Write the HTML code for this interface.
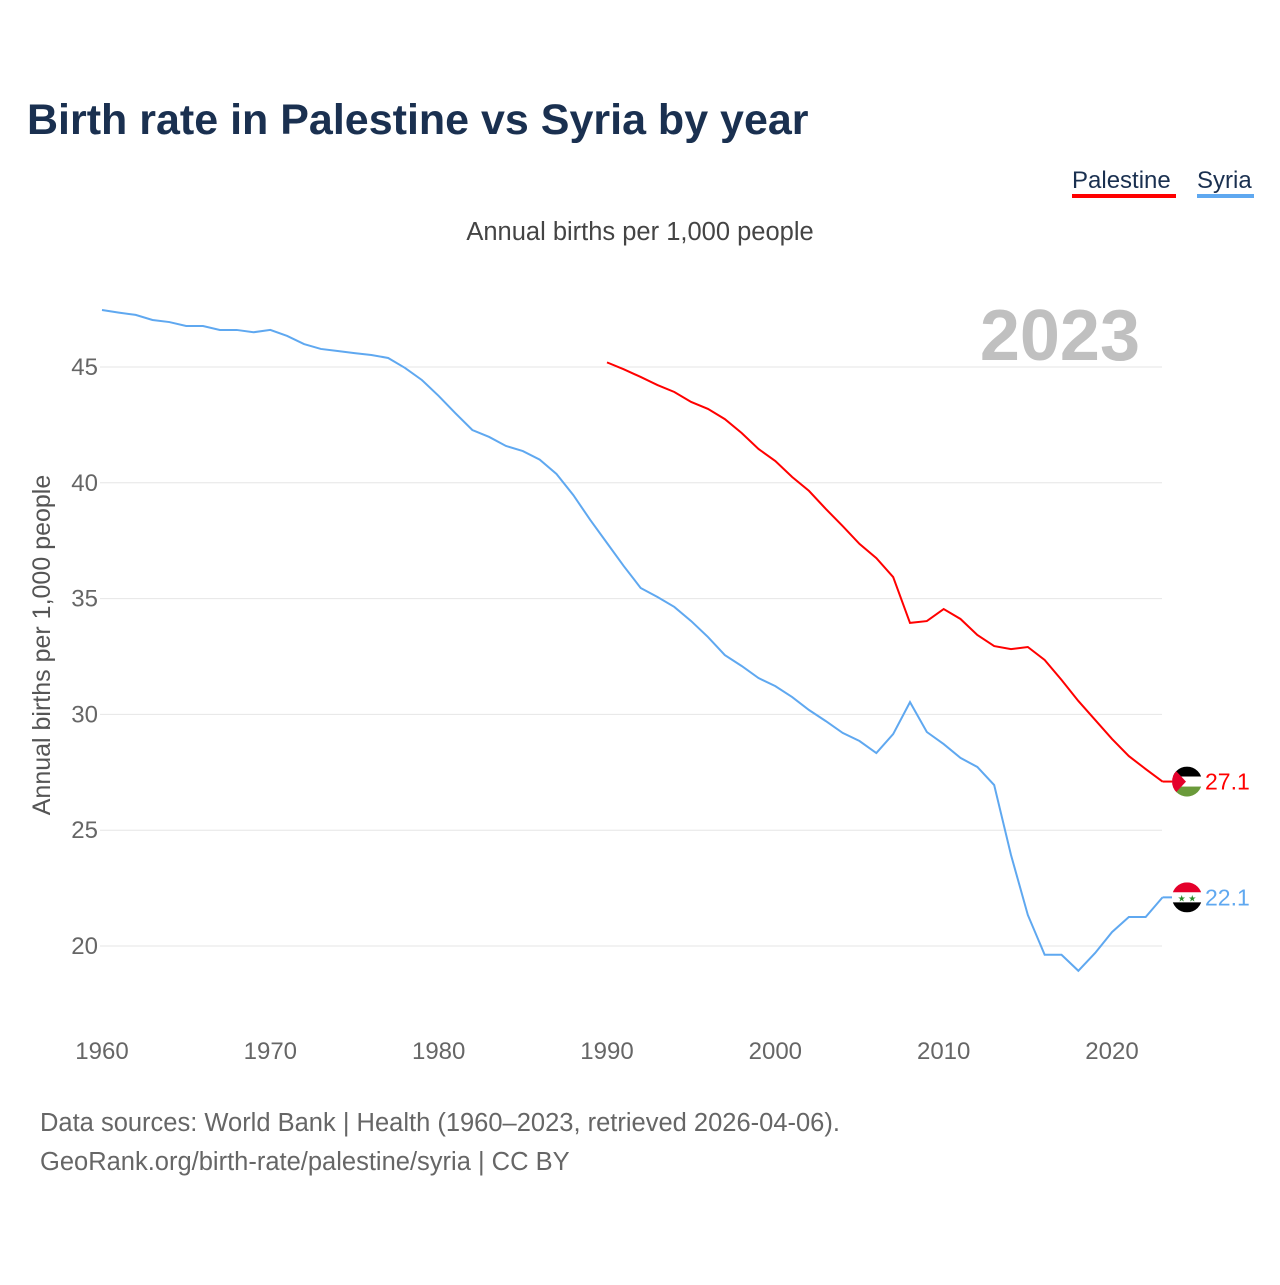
<!DOCTYPE html>
<html><head><meta charset="utf-8"><style>
body{margin:0;background:#fff;font-family:"Liberation Sans",sans-serif;}
svg text{font-family:"Liberation Sans",sans-serif;}
</style></head><body>
<svg width="1280" height="1280" viewBox="0 0 1280 1280">
<text x="27" y="134" font-size="43" font-weight="bold" fill="#1a3050">Birth rate in Palestine vs Syria by year</text>
<g>
<text x="1072" y="188" font-size="24" fill="#1a3050">Palestine</text>
<rect x="1072" y="194" width="104" height="4" fill="#ff0000"/>
<text x="1197" y="188" font-size="24" fill="#1a3050">Syria</text>
<rect x="1197" y="194" width="57" height="4" fill="#5fa8f0"/>
</g>
<text x="640" y="240" font-size="25.5" fill="#444" text-anchor="middle">Annual births per 1,000 people</text>
<text x="1140" y="360" font-size="72" font-weight="bold" fill="#c0c0c0" text-anchor="end">2023</text>
<text transform="translate(50,645) rotate(-90)" font-size="25" fill="#555" text-anchor="middle">Annual births per 1,000 people</text>
<g id="grid"></g><g id="xt"></g><g id="lines"></g>
<text x="40" y="1131" font-size="25.5" fill="#666">Data sources: World Bank | Health (1960–2023, retrieved 2026-04-06).</text>
<text x="40" y="1170" font-size="25.5" fill="#666">GeoRank.org/birth-rate/palestine/syria | CC BY</text>
</svg>
<script>
const yTicks=[20,25,30,35,40,45];
const xTicks=[1960,1970,1980,1990,2000,2010,2020];
const syriaYears=[1960,1961,1962,1963,1964,1965,1966,1967,1968,1969,1970,1971,1972,1973,1974,1975,1976,1977,1978,1979,1980,1981,1982,1983,1984,1985,1986,1987,1988,1989,1990,1991,1992,1993,1994,1995,1996,1997,1998,1999,2000,2001,2002,2003,2004,2005,2006,2007,2008,2009,2010,2011,2012,2013,2014,2015,2016,2017,2018,2019,2020,2021,2022,2023];
const syriaValues=[47.46,47.35,47.25,47.03,46.94,46.77,46.77,46.6,46.6,46.5,46.6,46.34,45.99,45.78,45.69,45.6,45.52,45.39,44.96,44.44,43.75,43.0,42.28,41.98,41.59,41.37,41.0,40.38,39.47,38.4,37.4,36.4,35.46,35.07,34.64,34.03,33.34,32.56,32.09,31.57,31.22,30.75,30.19,29.71,29.2,28.85,28.33,29.15,30.53,29.24,28.72,28.12,27.73,26.95,23.93,21.34,19.62,19.62,18.93,19.7,20.6,21.25,21.25,22.1];
const palYears=[1990,1991,1992,1993,1994,1995,1996,1997,1998,1999,2000,2001,2002,2003,2004,2005,2006,2007,2008,2009,2010,2011,2012,2013,2014,2015,2016,2017,2018,2019,2020,2021,2022,2023];
const palValues=[45.2,44.9,44.57,44.22,43.92,43.49,43.19,42.75,42.15,41.46,40.94,40.25,39.65,38.87,38.13,37.36,36.75,35.93,33.95,34.03,34.55,34.12,33.43,32.95,32.82,32.91,32.35,31.49,30.58,29.76,28.94,28.2,27.64,27.1];
const NS="http://www.w3.org/2000/svg";
const X=y=>102+(y-1960)*(1010/60);
const Y=v=>367+(45-v)*(579/25);
function mk(t,a,p){const e=document.createElementNS(NS,t);for(const k in a)e.setAttribute(k,a[k]);p.appendChild(e);return e;}
const grid=document.getElementById('grid'),xt=document.getElementById('xt'),lines=document.getElementById('lines');
yTicks.forEach(v=>{
 const l=mk('line',{x1:100,x2:1162,y1:Y(v),y2:Y(v),stroke:'#e6e6e6','stroke-width':1},grid);
 
 
 const t=mk('text',{x:98,y:Y(v)+8,'font-size':24,fill:'#666','text-anchor':'end'},grid);t.textContent=v;
 
 
});
xTicks.forEach(v=>{
 const t=mk('text',{x:X(v),y:1059,'font-size':24,fill:'#666','text-anchor':'middle'},xt);t.textContent=v;
 
 
});
function line(ys,vs,col,name){
 const p=mk('polyline',{points:ys.map((y,i)=>X(y)+','+Y(vs[i])).join(' '),fill:'none',stroke:col,'stroke-width':2},lines);
 
 
 const ly=Y(vs[vs.length-1]),lx=X(ys[ys.length-1]);
 mk('line',{x1:lx,x2:1172,y1:ly,y2:ly,stroke:col,'stroke-width':2},lines);
 const t=mk('text',{x:1205,y:ly+8,'font-size':23,fill:col},lines);t.textContent=vs[vs.length-1].toFixed(1);
 
 
 return ly;
}
const sy=line(syriaYears,syriaValues,'#5fa8f0','syria');
const py=line(palYears,palValues,'#ff0000','palestine');
function flag(cy,name,stripes,extra){
 const g=mk('g',{},lines);
 
 
 const id='c'+name;const cp=mk('clipPath',{id:id},g);mk('circle',{cx:1187,cy:cy,r:15},cp);
 const gg=mk('g',{'clip-path':'url(#'+id+')'},g);
 stripes.forEach((c,i)=>mk('rect',{x:1172,y:cy-15+i*10,width:30,height:10,fill:c},gg));
 extra&&extra(gg);
}
flag(py,'palestine',['#000','#fff','#6a9a3a'],g=>mk('polygon',{points:`1172,${py-15} 1186,${py} 1172,${py+15}`,fill:'#e4002b'},g));
flag(sy,'syria',['#e4002b','#fff','#000'],g=>{const t=mk('text',{x:1187,y:sy+4,'font-size':9,fill:'#2a8a2a','text-anchor':'middle'},g);t.textContent='★ ★';});
</script>
</body></html>
